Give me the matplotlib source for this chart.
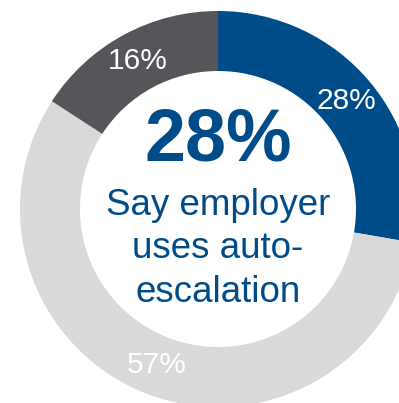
import matplotlib.pyplot as plt

# share of respondents, clockwise from the top
labels = ["28%", "57%", "16%"]
values = [28, 57, 16]
colors = ["#004C89", "#D9D9D9", "#54565A"]

headline = "28%"
note = "Say employer\nuses auto-\nescalation"

plt.rcParams['font.family'] = ['Liberation Sans', 'DejaVu Sans']

fig = plt.figure(figsize=(3.99, 4.03), dpi=100)
ax = fig.add_axes([0, 0, 1, 1])

wedges, texts = ax.pie(values, labels=labels, colors=colors, startangle=90,
                       counterclock=False, labeldistance=0.848,
                       wedgeprops=dict(width=0.303, linewidth=0),
                       textprops=dict(color="white", fontsize=21.5))
for t in texts:
    t.set_horizontalalignment("center")
    t.set_verticalalignment("center")

ax.text(0, 0.247, headline, ha="center", va="baseline", color="#004C89",
        fontsize=53, fontweight="bold")
ax.text(0, -0.470, note, ha="center", va="baseline", color="#004C89",
        fontsize=26.5, linespacing=1.32, multialignment="center")

# donut is cropped by the frame on the right and bottom
ax.set_aspect("auto")
ax.set_xlim(-218 / 198, 181 / 198)
ax.set_ylim(-194 / 198, 209 / 198)
ax.axis("off")

fig.savefig("out.png", dpi=100)
